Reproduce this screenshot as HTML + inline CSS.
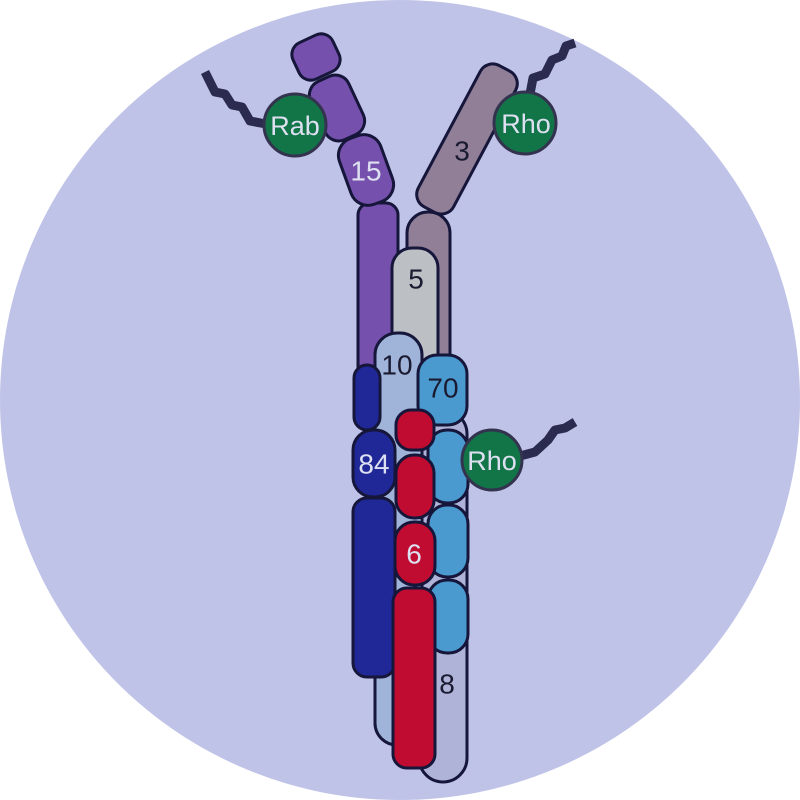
<!DOCTYPE html>
<html><head><style>body{margin:0;background:#fff}svg{display:block}</style></head><body>
<svg width="800" height="800" viewBox="0 0 800 800" xmlns="http://www.w3.org/2000/svg" font-family="Liberation Sans, sans-serif">
<circle cx="400" cy="400" r="400" fill="#c0c3e8"/>
<g stroke="#15163a" stroke-width="3" stroke-linejoin="round">
<path d="M205,72 L215,92 L225,94 L232,105 L242,107 L250,121 L266,124" fill="none" stroke="#2b2a4f" stroke-width="9"/>
<path d="M530,94 L533,78 L545,74 L552,60 L562,56 L566,46 L575,43" fill="none" stroke="#2b2a4f" stroke-width="9"/>
<path d="M520,456 L535,452 L548,440 L555,430 L565,428 L575,422" fill="none" stroke="#2b2a4f" stroke-width="9"/>
<rect x="358" y="203" width="40" height="190" rx="12" fill="#7650ad"/>
<rect x="-22" y="-20" width="44" height="40" rx="13" fill="#7650ad" transform="translate(316,57) rotate(-25)"/>
<rect x="-21" y="-32" width="42" height="64" rx="15" fill="#7650ad" transform="translate(337,108) rotate(-25)"/>
<rect x="-22" y="-35" width="44" height="70" rx="18" fill="#7650ad" transform="translate(366,170) rotate(-20)"/>
<rect x="407" y="212" width="43" height="180" rx="21" fill="#907f97"/>
<rect x="-20" y="-80" width="40" height="160" rx="14" fill="#907f97" transform="translate(467,139) rotate(28)"/>
<rect x="392" y="248" width="46" height="130" rx="20" fill="#bcc0c4"/>
<rect x="419" y="410" width="48" height="372" rx="24" fill="#b0b3d8"/>
<rect x="375" y="333" width="47" height="412" rx="22" fill="#a0b3d8"/>
<rect x="354" y="365" width="26" height="65" rx="13" fill="#202898"/>
<rect x="353" y="430" width="42" height="67" rx="20" fill="#202898"/>
<rect x="353" y="498" width="42" height="179" rx="14" fill="#202898"/>
<rect x="428" y="430" width="40" height="73" rx="19" fill="#4a9ad0"/>
<rect x="428" y="505" width="40" height="72" rx="19" fill="#4a9ad0"/>
<rect x="428" y="580" width="40" height="73" rx="19" fill="#4a9ad0"/>
<rect x="418" y="355" width="49" height="70" rx="19" fill="#4a9ad0"/>
<rect x="396" y="410" width="38" height="40" rx="15" fill="#c00c30"/>
<rect x="396" y="455" width="38" height="63" rx="18" fill="#c00c30"/>
<rect x="395" y="522" width="40" height="63" rx="19" fill="#c00c30"/>
<rect x="393" y="588" width="42" height="180" rx="14" fill="#c00c30"/>
<circle cx="295" cy="125" r="31" fill="#127548" stroke="#33334f"/>
<circle cx="525" cy="123" r="31" fill="#127548" stroke="#33334f"/>
<circle cx="492" cy="460" r="30" fill="#127548" stroke="#33334f"/>
</g>
<g font-size="28" text-anchor="middle" dominant-baseline="central">
<text x="295" y="126" fill="#dde0f0" font-size="27">Rab</text>
<text x="526" y="124" fill="#dde0f0" font-size="27">Rho</text>
<text x="492" y="461" fill="#dde0f0" font-size="27">Rho</text>
<text x="366" y="171" fill="#dde0f0">15</text>
<text x="462" y="151" fill="#1a1a30">3</text>
<text x="416" y="279" fill="#1a1a30">5</text>
<text x="397" y="365" fill="#1a1a30">10</text>
<text x="443" y="388" fill="#1a1a30">70</text>
<text x="374" y="464" fill="#dde0f0">84</text>
<text x="414" y="554" fill="#dde0f0">6</text>
<text x="447" y="684" fill="#1a1a30">8</text>
</g>
</svg>
</body></html>
